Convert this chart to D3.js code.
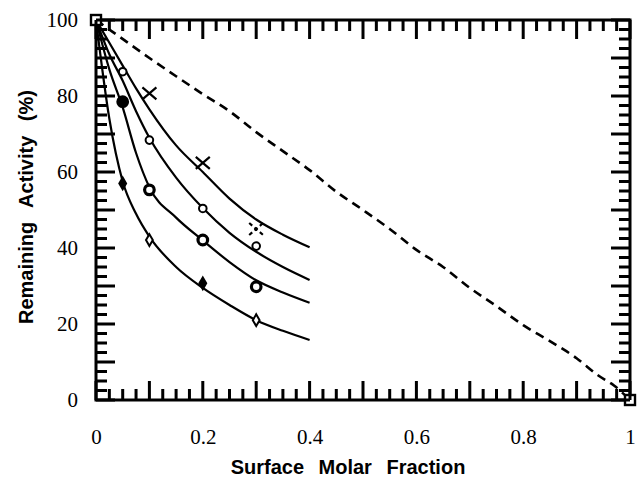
<!DOCTYPE html>
<html>
<head>
<meta charset="utf-8">
<script src="https://cdn.jsdelivr.net/npm/d3@7"></script>
<style>
  body { margin: 0; background: #fff; }
  .tick text { font-family: "Liberation Serif", "DejaVu Serif", serif; }
</style>
</head>
<body>
<script>
// fitted curves (solid)
const curveX = [0, 0.025, 0.05, 0.075, 0.1, 0.15, 0.2, 0.25, 0.3, 0.35, 0.4];
const curveA = [100, 94, 88, 82, 76.5, 67, 60, 53, 47.5, 43.5, 40.2];
const curveB = [100, 91, 84, 76, 69, 58.5, 50.5, 44, 39, 35, 31.6];
const curveC = [100, 87, 77, 65, 56, 48, 42, 36.3, 31.5, 28.3, 25.6];
const curveD = [100, 74, 57.5, 49, 43, 35, 29.5, 25, 21, 18.2, 15.8];

// dashed line
const dashX = [0, 0.02, 0.04, 0.1, 0.15, 0.2, 0.25, 0.3, 0.35, 0.4, 0.45, 0.5, 0.55, 0.6, 0.65, 0.7, 0.75, 0.8, 0.85, 0.9, 0.94, 0.97, 1];
const dashY = [100, 98, 96, 90, 85.2, 80.5, 76, 70.5, 65.5, 60.5, 54.8, 50, 45, 39.5, 35, 29.5, 24.7, 19.7, 15.5, 11, 6.5, 3.8, 0];

// measured points
const crossX = [0.1, 0.2, 0.3];
const crossY = [80.7, 62.4, 45];
const ringX = [0.05, 0.1, 0.2, 0.3];
const ringY = [86.4, 68.4, 50.4, 40.5];
const boldX = [0.05, 0.1, 0.2, 0.3];
const boldY = [78.5, 55.3, 42.1, 29.8];
const diamX = [0.05, 0.1, 0.2, 0.3];
const diamY = [57, 42.1, 30.7, 21];
const squareX = [0, 1];
const squareY = [100, 0];

const xTickLabels = ["0", "0.2", "0.4", "0.6", "0.8", "1"];
const yTickLabels = ["0", "20", "40", "60", "80", "100"];

const W = 638, H = 496;
const x = d3.scaleLinear().domain([0, 1]).range([96, 630]);
const y = d3.scaleLinear().domain([0, 100]).range([400, 20]);

const svg = d3.select("body").append("svg")
    .attr("width", W)
    .attr("height", H)
    .style("display", "block");

// labels
const xl = svg.append("g")
    .attr("transform", "translate(0,400)")
    .call(d3.axisBottom(x).tickValues([0, 0.2, 0.4, 0.6, 0.8, 1]).tickSize(0).tickPadding(29)
        .tickFormat((d, i) => xTickLabels[i]));
xl.select(".domain").remove();
xl.selectAll("text").attr("font-size", 21).attr("fill", "#000");

const yl = svg.append("g")
    .attr("transform", "translate(96,0)")
    .call(d3.axisLeft(y).tickValues([0, 20, 40, 60, 80, 100]).tickSize(0).tickPadding(18)
        .tickFormat((d, i) => yTickLabels[i]));
yl.select(".domain").remove();
yl.selectAll("text").attr("font-size", 21).attr("fill", "#000");

// frame
svg.append("rect")
    .attr("x", x(0)).attr("y", y(100))
    .attr("width", x(1) - x(0)).attr("height", y(0) - y(100))
    .attr("fill", "none").attr("stroke", "#000").attr("stroke-width", 3);

// curves
const line = d3.line().curve(d3.curveMonotoneX);
[curveA, curveB, curveC, curveD].forEach(c => {
    svg.append("path")
        .attr("d", line(curveX.map((v, i) => [x(v), y(c[i])])))
        .attr("fill", "none").attr("stroke", "#000").attr("stroke-width", 2.2);
});
svg.append("path")
    .attr("d", line(dashX.map((v, i) => [x(v), y(dashY[i])])))
    .attr("fill", "none").attr("stroke", "#000").attr("stroke-width", 2.6)
    .attr("stroke-dasharray", "9,6");

// markers
const sym = svg.append("g");
crossX.forEach((v, i) => {
    sym.append("path")
        .attr("transform", `translate(${x(v)},${y(crossY[i])})`)
        .attr("d", "M-7,-6L7,6M-7,6L7,-6")
        .attr("stroke", "#000").attr("stroke-width", 2.2)
        .attr("stroke-dasharray", i === 2 ? "4,3" : null);
});
ringX.forEach((v, i) => {
    sym.append("circle")
        .attr("cx", x(v)).attr("cy", y(ringY[i])).attr("r", 3.8)
        .attr("fill", "#fff").attr("stroke", "#000").attr("stroke-width", 2);
});
boldX.forEach((v, i) => {
    sym.append("circle")
        .attr("cx", x(v)).attr("cy", y(boldY[i])).attr("r", 4.8)
        .attr("fill", i === 0 ? "#000" : "#fff").attr("stroke", "#000").attr("stroke-width", 3.2);
});
diamX.forEach((v, i) => {
    sym.append("path")
        .attr("transform", `translate(${x(v)},${y(diamY[i])})`)
        .attr("d", d3.symbol(d3.symbolDiamond, 40)())
        .attr("fill", i % 2 === 0 ? "#000" : "#fff").attr("stroke", "#000").attr("stroke-width", 2);
});
squareX.forEach((v, i) => {
    sym.append("rect")
        .attr("x", x(v) - 5).attr("y", y(squareY[i]) - 5)
        .attr("width", 10).attr("height", 10)
        .attr("fill", "#fff").attr("stroke", "#000").attr("stroke-width", 2.4);
});

// inward ticks on all four sides, as one path through the scales:
// short every 0.025 / 2.5, long every 0.1 / 10
const tickSteps = [];
for (let i = 0; i <= 40; i++) tickSteps.push(i);
let td = "";
tickSteps.forEach(i => {
    const len = i % 4 === 0 ? 19 : 11;
    const px = x(i / 40), py = y(i * 2.5);
    td += `M${px},${y(0)}V${y(0) - len}`;
    td += `M${px},${y(100)}V${y(100) + len}`;
    td += `M${x(0)},${py}H${x(0) + len}`;
    td += `M${x(1)},${py}H${x(1) - len}`;
});
svg.append("path")
    .attr("d", td)
    .attr("fill", "none")
    .attr("stroke", "#000")
    .attr("stroke-width", 3)
    .attr("stroke-linecap", "butt");

// titles
svg.append("text")
    .attr("x", 348).attr("y", 474)
    .attr("text-anchor", "middle")
    .attr("font-family", "Liberation Sans, Arial, sans-serif")
    .attr("font-weight", "bold").attr("font-size", 20)
    .attr("word-spacing", 9)
    .text("Surface Molar Fraction");

svg.append("text")
    .attr("transform", "translate(33,207) rotate(-90)")
    .attr("text-anchor", "middle")
    .attr("font-family", "Liberation Sans, Arial, sans-serif")
    .attr("font-weight", "bold").attr("font-size", 20)
    .attr("word-spacing", 9)
    .text("Remaining Activity (%)");
</script>
</body>
</html>
